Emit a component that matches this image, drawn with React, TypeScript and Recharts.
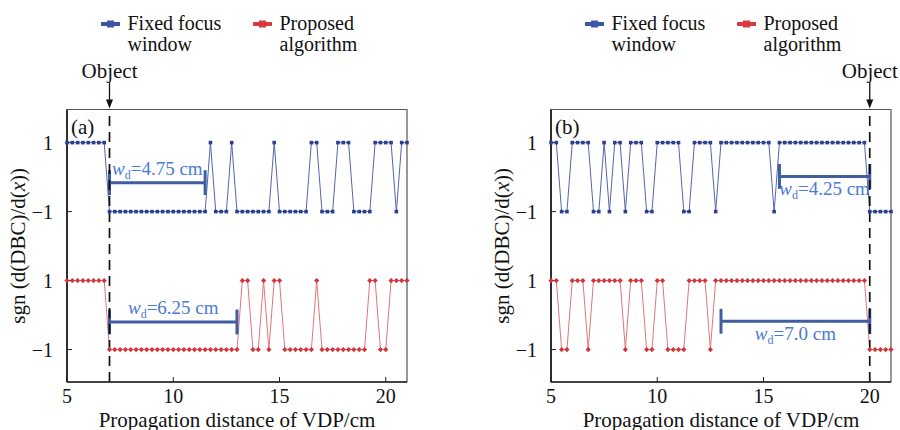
import React from 'react';
import { LineChart, Line, XAxis, YAxis, ReferenceLine, ReferenceArea } from 'recharts';

// propagation distance of VDP (cm)
const distance = [
  5, 5.25, 5.5, 5.75, 6, 6.25, 6.5, 6.75, 7, 7.25, 7.5, 7.75, 8, 8.25, 8.5, 8.75,
  9, 9.25, 9.5, 9.75, 10, 10.25, 10.5, 10.75, 11, 11.25, 11.5, 11.75, 12, 12.25, 12.5, 12.75,
  13, 13.25, 13.5, 13.75, 14, 14.25, 14.5, 14.75, 15, 15.25, 15.5, 15.75, 16, 16.25, 16.5, 16.75,
  17, 17.25, 17.5, 17.75, 18, 18.25, 18.5, 18.75, 19, 19.25, 19.5, 19.75, 20, 20.25, 20.5, 20.75, 21,
];

// sgn(d(DBC)/d(x)), panel (a)
const fixedFocusA = [
  1, 1, 1, 1, 1, 1, 1, 1, -1, -1, -1, -1, -1, -1, -1, -1,
  -1, -1, -1, -1, -1, -1, -1, -1, -1, -1, -1, 1, -1, -1, -1, 1,
  -1, -1, -1, -1, -1, -1, -1, 1, -1, -1, -1, -1, -1, -1, 1, 1,
  -1, -1, -1, 1, 1, 1, -1, -1, -1, -1, 1, 1, 1, 1, -1, 1, 1,
];
const proposedA = [
  1, 1, 1, 1, 1, 1, 1, 1, -1, -1, -1, -1, -1, -1, -1, -1,
  -1, -1, -1, -1, -1, -1, -1, -1, -1, -1, -1, -1, -1, -1, -1, -1,
  -1, 1, 1, -1, -1, 1, -1, 1, 1, -1, -1, -1, -1, -1, -1, 1,
  -1, -1, -1, -1, -1, -1, -1, -1, -1, 1, 1, -1, -1, 1, 1, 1, 1,
];

// panel (b)
const fixedFocusB = [
  1, 1, -1, -1, 1, 1, 1, 1, -1, -1, 1, -1, 1, 1, -1, 1,
  1, 1, -1, -1, 1, 1, 1, 1, 1, -1, -1, 1, 1, 1, 1, -1,
  1, 1, 1, 1, 1, 1, 1, 1, 1, 1, -1, 1, 1, 1, 1, 1,
  1, 1, 1, 1, 1, 1, 1, 1, 1, 1, 1, 1, -1, -1, -1, -1, -1,
];
const proposedB = [
  1, 1, -1, -1, 1, 1, 1, -1, 1, 1, 1, 1, 1, 1, -1, 1,
  1, 1, -1, -1, 1, 1, -1, -1, -1, -1, 1, 1, 1, 1, -1, 1,
  1, 1, 1, 1, 1, 1, 1, 1, 1, 1, 1, 1, 1, 1, 1, 1,
  1, 1, 1, 1, 1, 1, 1, 1, 1, 1, 1, 1, -1, -1, -1, -1, -1,
];

const xTicks = [5, 10, 15, 20];
const levelTicks = [0, 1, 2, 3];
const levelLabels = ['\u22121', '1', '\u22121', '1'];

const FONT = 'Liberation Serif, DejaVu Serif, serif';
const BLUE_LINE = '#5565ad';
const BLUE_DOT = '#2c3f8f';
const RED_LINE = '#e3757b';
const RED_DOT = '#d5343b';
const BAR = '#3f5d9f';
const BAR_TEXT = '#4a7ad6';
const Y_DOMAIN = [-0.47, 3.48];

const SquareDot = (p: any) => {
  if (p.cx == null || p.cy == null) return <g key={`s-${p.index}`} />;
  return <rect key={`s-${p.index}`} x={p.cx - 1.8} y={p.cy - 1.8} width={3.6} height={3.6} fill={BLUE_DOT} />;
};

const DiamondDot = (p: any) => {
  if (p.cx == null || p.cy == null) return <g key={`r-${p.index}`} />;
  const { cx, cy } = p;
  return (
    <path
      key={`r-${p.index}`}
      d={`M${cx - 2.6},${cy}L${cx},${cy - 2.6}L${cx + 2.6},${cy}L${cx},${cy + 2.6}Z`}
      fill={RED_DOT}
    />
  );
};

const ObjectLabel = (p: any) => {
  const { x, y } = p.viewBox;
  return (
    <g>
      <line x1={x} y1={y - 27} x2={x} y2={y - 8} stroke="#111" strokeWidth={1.3} />
      <path d={`M${x - 3.5},${y - 10}L${x + 3.5},${y - 10}L${x},${y - 1}Z`} fill="#111" />
      <text x={x} y={y - 31.5} textAnchor="middle" style={{ fontFamily: FONT }} fontSize={21} fill="#111">
        Object
      </text>
    </g>
  );
};

const makeBarText = (value: string, below: boolean) => (p: any) => {
  const { x, y, width } = p.viewBox;
  return (
    <text
      x={x + width / 2}
      y={below ? y + 19 : y - 8}
      textAnchor="middle"
      style={{ fontFamily: FONT }}
      fontSize={19}
      fill={BAR_TEXT}
    >
      <tspan fontStyle="italic">w</tspan>
      <tspan fontSize={12} dy={4}>d</tspan>
      <tspan dy={-4}>={value}</tspan>
    </text>
  );
};

const makeTag = (tag: string) => (p: any) => {
  const { x, y } = p.viewBox;
  return (
    <text x={x + 4} y={y + 24} style={{ fontFamily: FONT }} fontSize={21} fill="#111">
      {tag}
    </text>
  );
};

const XTitle = (p: any) => {
  const { x, y, width } = p.viewBox;
  return (
    <text x={x + width / 2} y={y + 44.5} textAnchor="middle" style={{ fontFamily: FONT }} fontSize={21} fill="#111">
      Propagation distance of VDP/cm
    </text>
  );
};

const YTitle = (p: any) => {
  const { x, y, width, height } = p.viewBox;
  const cx = x + width - 42;
  const cy = y + height / 2;
  return (
    <text
      x={cx}
      y={cy}
      transform={`rotate(-90, ${cx}, ${cy})`}
      textAnchor="middle"
      style={{ fontFamily: FONT }}
      fontSize={21}
      fill="#111"
    >
      sgn (d(DBC)/d(<tspan fontStyle="italic">x</tspan>))
    </text>
  );
};

interface Window {
  x1: number;
  x2: number;
  y: number;
  text: string;
  below: boolean;
}

interface PanelProps {
  tag: string;
  fixed: number[];
  proposed: number[];
  objectAt: number;
  windows: Window[];
  width: number;
  marginRight: number;
}

const Panel: React.FC<PanelProps> = ({ tag, fixed, proposed, objectAt, windows, width, marginRight }) => {
  // stack the two sign curves: fixed focus window on top, proposed below
  const rows = distance.map((x, i) => ({
    x,
    fixed: fixed[i] === 1 ? 3 : 2,
    proposed: proposed[i] === 1 ? 1 : 0,
  }));

  return (
    <LineChart
      width={width}
      height={430}
      data={rows}
      margin={{ top: 109.5, right: marginRight, bottom: 18, left: 37 }}
    >
      <ReferenceArea
        x1={5}
        x2={21}
        y1={Y_DOMAIN[0]}
        y2={Y_DOMAIN[1]}
        fill="none"
        stroke="#555"
        strokeWidth={1.2}
        label={makeTag(tag)}
      />
      <XAxis
        type="number"
        dataKey="x"
        domain={[5, 21]}
        ticks={xTicks}
        interval={0}
        height={30}
        tickSize={-5}
        tickMargin={11.8}
        axisLine={{ stroke: '#222', strokeWidth: 1.5 }}
        tickLine={{ stroke: '#222' }}
        tick={{ fontSize: 20, fill: '#111', fontFamily: FONT }}
        label={<XTitle />}
      />
      <YAxis
        type="number"
        domain={Y_DOMAIN}
        ticks={levelTicks}
        interval={0}
        width={30}
        tickSize={-5}
        tickMargin={19}
        tickFormatter={(v: number) => levelLabels[levelTicks.indexOf(v)]}
        axisLine={{ stroke: '#222', strokeWidth: 1.8 }}
        tickLine={{ stroke: '#222' }}
        tick={{ fontSize: 20, fill: '#111', fontFamily: FONT }}
        label={<YTitle />}
      />
      <Line
        dataKey="fixed"
        stroke={BLUE_LINE}
        strokeWidth={1}
        dot={SquareDot}
        activeDot={false}
        isAnimationActive={false}
      />
      <Line
        dataKey="proposed"
        stroke={RED_LINE}
        strokeWidth={1}
        dot={DiamondDot}
        activeDot={false}
        isAnimationActive={false}
      />
      {windows.map((w, i) => [
        <ReferenceLine
          key={`bar-${i}`}
          segment={[{ x: w.x1, y: w.y }, { x: w.x2, y: w.y }]}
          stroke={BAR}
          strokeWidth={3}
          label={makeBarText(w.text, w.below)}
        />,
        <ReferenceLine
          key={`capl-${i}`}
          segment={[{ x: w.x1, y: w.y - 0.18 }, { x: w.x1, y: w.y + 0.18 }]}
          stroke={BAR}
          strokeWidth={3}
        />,
        <ReferenceLine
          key={`capr-${i}`}
          segment={[{ x: w.x2, y: w.y - 0.18 }, { x: w.x2, y: w.y + 0.18 }]}
          stroke={BAR}
          strokeWidth={3}
        />,
      ])}
      <ReferenceLine
        x={objectAt}
        stroke="#111"
        strokeWidth={1.7}
        strokeDasharray="10 6"
        label={<ObjectLabel />}
      />
    </LineChart>
  );
};

const LegendItem = ({ x, color, lines }: { x: number; color: string; lines: string[] }) => (
  <g>
    <line x1={x} y1={24} x2={x + 19} y2={24} stroke={color} strokeWidth={4} />
    <rect x={x + 6} y={20.5} width={7} height={7} fill={color} />
    <text x={x + 26.5} y={30} style={{ fontFamily: FONT }} fontSize={20} fill="#111">
      {lines[0]}
    </text>
    <text x={x + 26.5} y={51} style={{ fontFamily: FONT }} fontSize={20} fill="#111">
      {lines[1]}
    </text>
  </g>
);

export default function App() {
  return (
    <div
      style={{
        position: 'absolute',
        left: 0,
        top: 0,
        width: 900,
        height: 430,
        background: '#fff',
        overflow: 'hidden',
        fontFamily: FONT,
      }}
    >
      <div style={{ position: 'absolute', left: 0, top: 0 }}>
        <Panel
          tag="(a)"
          fixed={fixedFocusA}
          proposed={proposedA}
          objectAt={7}
          windows={[
            { x1: 7, x2: 11.5, y: 2.42, text: '4.75 cm', below: false },
            { x1: 7, x2: 13, y: 0.4, text: '6.25 cm', below: false },
          ]}
          width={450}
          marginRight={43}
        />
      </div>
      <div style={{ position: 'absolute', left: 484, top: 0 }}>
        <Panel
          tag="(b)"
          fixed={fixedFocusB}
          proposed={proposedB}
          objectAt={20}
          windows={[
            { x1: 15.75, x2: 20, y: 2.51, text: '4.25 cm', below: true },
            { x1: 13, x2: 20, y: 0.41, text: '7.0 cm', below: true },
          ]}
          width={416}
          marginRight={9}
        />
      </div>
      <svg
        width={900}
        height={430}
        style={{ position: 'absolute', left: 0, top: 0, pointerEvents: 'none' }}
      >
        <LegendItem x={101} color="#3a55a4" lines={['Fixed focus', 'window']} />
        <LegendItem x={253} color="#d83a41" lines={['Proposed', 'algorithm']} />
        <LegendItem x={585} color="#3a55a4" lines={['Fixed focus', 'window']} />
        <LegendItem x={737} color="#d83a41" lines={['Proposed', 'algorithm']} />
      </svg>
    </div>
  );
}
